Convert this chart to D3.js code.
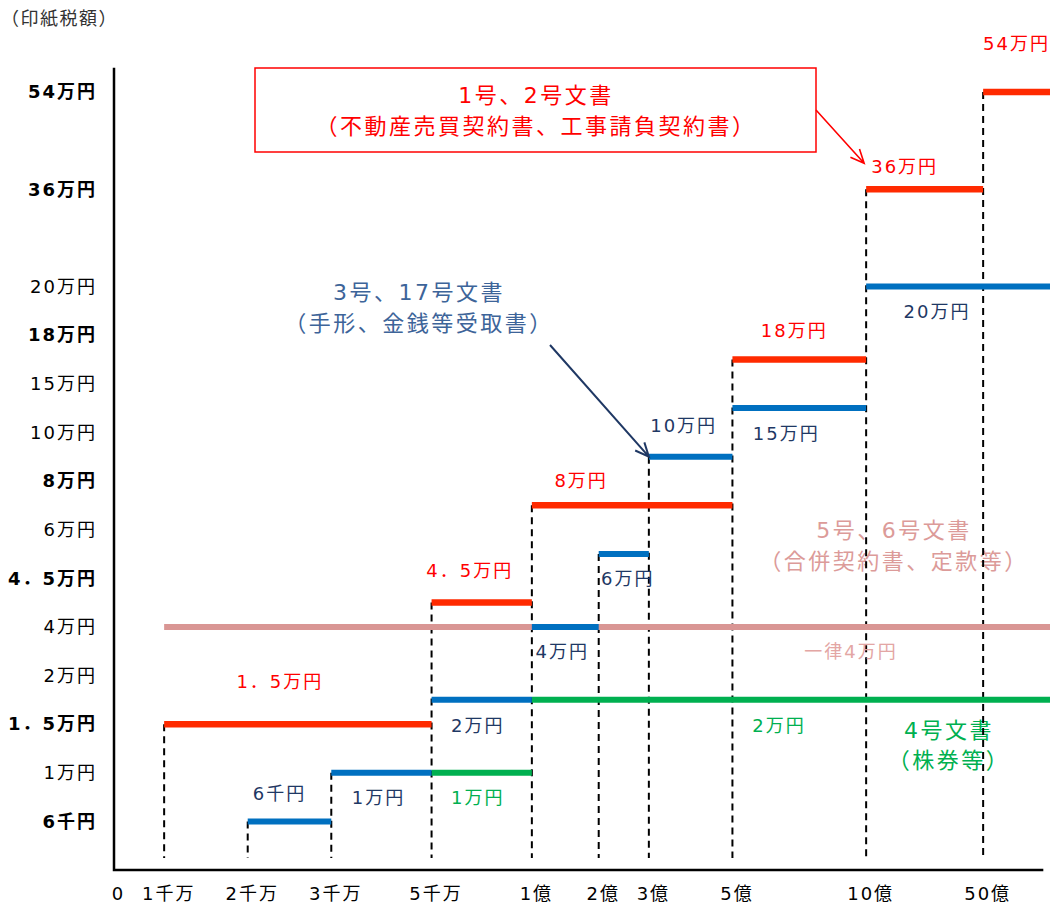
<!DOCTYPE html>
<html>
<head>
<meta charset="utf-8">
<script src="https://cdn.jsdelivr.net/npm/d3@7"></script>
<style>
  html, body { margin: 0; padding: 0; background: #fff; }
  svg { display: block; }
  text { font-family: "DejaVu Sans", "Noto Sans CJK JP", sans-serif; }
</style>
</head>
<body>
<svg id="chart" width="1054" height="905"></svg>
<script>
// ---- Contract amount breakpoints along the x axis (axis units) ----
const breakLabels = ["0", "1千万", "2千万", "3千万", "5千万", "1億", "2億", "3億", "5億", "10億", "50億"];
const breakUnits  = [0, 1.5, 4, 6.5, 9.5, 12.5, 14.5, 16, 18.5, 22.5, 26];
const axisEndUnit = 28;

// ---- Stamp tax amounts (y axis) ----
const taxAmounts = [6000, 10000, 15000, 20000, 40000, 45000, 60000, 80000, 100000, 150000, 180000, 200000, 360000, 540000];
const taxLabels  = ["6千円", "1万円", "1．5万円", "2万円", "4万円", "4．5万円", "6万円", "8万円", "10万円", "15万円", "18万円", "20万円", "36万円", "54万円"];
const tickRows   = [2, 4, 6, 8, 10, 12, 14, 16, 18, 20, 22, 24, 28, 32];
const stepRows   = [2, 4, 6, 7, 10, 11, 13, 15, 17, 19, 21, 24, 28, 32];

// ---- Step series: breakpoint where each step starts, and its tax ----
const doc1Starts = ["1千万", "5千万", "1億", "5億", "10億", "50億"];
const doc1Tax    = [15000, 45000, 80000, 180000, 360000, 540000];
const doc3Starts = ["2千万", "3千万", "5千万", "1億", "2億", "3億", "5億", "10億"];
const doc3Tax    = [6000, 10000, 20000, 40000, 60000, 100000, 150000, 200000];
const doc4Starts = ["5千万", "1億"];
const doc4Tax    = [10000, 20000];
const doc5Starts = ["1千万"];
const doc5Tax    = [40000];

// ---- Scales ----
const svg = d3.select("#chart");
const x = d3.scaleLinear().domain([0, axisEndUnit]).range([114, 1050]);
const yRow = d3.scaleLinear().domain([0, 32]).range([870, 92]);
const rowOfTax = d3.scaleOrdinal(taxAmounts, stepRows);
const y = t => yRow(rowOfTax(t));
const unitOf = d3.scaleOrdinal(breakLabels, breakUnits);
const labelOfTax = d3.scaleOrdinal(taxAmounts, taxLabels);

function steps(starts, taxes) {
  return starts.map((s, i) => ({
    x0: unitOf(s),
    x1: i < starts.length - 1 ? unitOf(starts[i + 1]) : axisEndUnit,
    tax: taxes[i]
  }));
}
const series = [
  { key: "doc5", steps: steps(doc5Starts, doc5Tax), color: "#d99694", width: 6, label: "#e3a6a4" },
  { key: "doc4", steps: steps(doc4Starts, doc4Tax), color: "#00b050", width: 6, label: "#00b050" },
  { key: "doc3", steps: steps(doc3Starts, doc3Tax), color: "#0070c0", width: 6, label: "#1f3864" },
  { key: "doc1", steps: steps(doc1Starts, doc1Tax), color: "#ff2a00", width: 6.5, label: "#ff0000" }
];

// Value label nudges relative to each step's midpoint (dx, dy in px)
const labelNudge = {
  doc1: [[-18, -36], [-12, -26], [-51, -18], [-5, -22], [-20, -16], [0, -42]],
  doc3: [[-10, -21], [-3, 31], [-4, 32], [-3, 31], [4, 31], [-7, -25], [-13, 32], [-21, 31]],
  doc4: [[-4, 31], [-12, 32]],
  doc5: [[244, 31]]
};

// ---- Group titles (drawn first so guide lines sit over them) ----
function title(lines, cx, baselines, color) {
  const g = svg.append("g").attr("fill", color).attr("font-size", 22)
    .attr("text-anchor", "middle").style("letter-spacing", "2.5px");
  lines.forEach((t, i) => g.append("text").attr("x", cx).attr("y", baselines[i]).text(t));
}
svg.append("rect").attr("x", 255).attr("y", 68).attr("width", 561).attr("height", 84)
  .attr("fill", "#fff").attr("stroke", "#ff0000").attr("stroke-width", 1.5);
title(["1号、2号文書", "（不動産売買契約書、工事請負契約書）"], 536, [103, 134], "#ff0000");
title(["3号、17号文書", "（手形、金銭等受取書）"], 419, [300, 331], "#3d6499");
title(["5号、6号文書", "（合併契約書、定款等）"], 894, [538, 569], "#dc9b99");
title(["4号文書", "（株券等）"], 949, [738, 768], "#00b050");

svg.append("text").attr("x", 1).attr("y", 25).attr("font-size", 18).attr("fill", "#333")
  .style("letter-spacing", "1.5px").text("（印紙税額）");

// ---- Dashed guides at each breakpoint, up to the highest step touching it ----
const guideSeries = series.filter(s => s.key !== "doc5");
breakUnits.slice(1).forEach(u => {
  const touching = [];
  guideSeries.forEach(s => s.steps.forEach(st => {
    if (st.x0 === u || st.x1 === u) touching.push(y(st.tax));
  }));
  if (!touching.length) return;
  svg.append("line")
    .attr("x1", x(u)).attr("x2", x(u))
    .attr("y1", d3.min(touching)).attr("y2", 858)
    .attr("stroke", "#000").attr("stroke-width", 2).attr("stroke-dasharray", "7,5");
});

// ---- Axes ----
const yAxis = d3.axisLeft(yRow).tickValues(tickRows)
  .tickFormat((d, i) => taxLabels[i]).tickSize(0).tickPadding(17);
const gy = svg.append("g").attr("transform", "translate(114,0)").call(yAxis);
gy.select(".domain").remove();
const emphasized = new Set(["6千円", "1．5万円", "4．5万円", "8万円", "18万円", "36万円", "54万円"]);
gy.selectAll("text")
  .attr("font-family", null).attr("font-size", 18).attr("fill", "#000")
  .style("letter-spacing", "2px")
  .attr("font-weight", (d, i) => emphasized.has(taxLabels[i]) ? "bold" : "normal");
gy.attr("font-family", null).attr("font-size", null);

const xAxis = d3.axisBottom(x).tickValues(breakUnits)
  .tickFormat((d, i) => breakLabels[i]).tickSize(0).tickPadding(17);
const gx = svg.append("g").attr("transform", "translate(0,870)").call(xAxis);
gx.select(".domain").remove();
gx.attr("font-family", null).attr("font-size", null);
gx.selectAll("text").attr("font-size", 18).attr("fill", "#000").attr("dx", 4)
  .style("letter-spacing", "2px");

svg.append("path")
  .attr("d", `M${x(0)},${yRow(33)}V${yRow(0)}H${x(27.8)}`)
  .attr("fill", "none").attr("stroke", "#000").attr("stroke-width", 2.5);

// ---- Step lines ----
series.forEach(s => {
  svg.append("g").selectAll("line").data(s.steps).join("line")
    .attr("x1", d => x(d.x0)).attr("x2", d => x(d.x1))
    .attr("y1", d => y(d.tax)).attr("y2", d => y(d.tax))
    .attr("stroke", s.color).attr("stroke-width", s.width);
});

// ---- Value labels ----
series.forEach(s => {
  svg.append("g").selectAll("text").data(s.steps).join("text")
    .attr("x", (d, i) => (x(d.x0) + x(d.x1)) / 2 + labelNudge[s.key][i][0])
    .attr("y", (d, i) => y(d.tax) + labelNudge[s.key][i][1])
    .attr("text-anchor", "middle").attr("font-size", 18).attr("fill", s.label)
    .style("letter-spacing", "2px")
    .text(d => s.key === "doc5" ? "一律" + labelOfTax(d.tax) : labelOfTax(d.tax));
});

// ---- Pointer arrows ----
function arrow(x1, y1, x2, y2, color, w) {
  const a = Math.atan2(y2 - y1, x2 - x1), L = 15, s = 0.42;
  svg.append("path")
    .attr("d", `M${x1},${y1}L${x2},${y2}` +
      `M${x2 - L * Math.cos(a - s)},${y2 - L * Math.sin(a - s)}L${x2},${y2}` +
      `L${x2 - L * Math.cos(a + s)},${y2 - L * Math.sin(a + s)}`)
    .attr("fill", "none").attr("stroke", color).attr("stroke-width", w);
}
arrow(816, 110, x(unitOf("10億")) - 2, y(360000) - 26, "#ff0000", 1.6);
arrow(550, 345, x(unitOf("3億")), y(100000), "#1f3864", 2);
</script>
</body>
</html>
